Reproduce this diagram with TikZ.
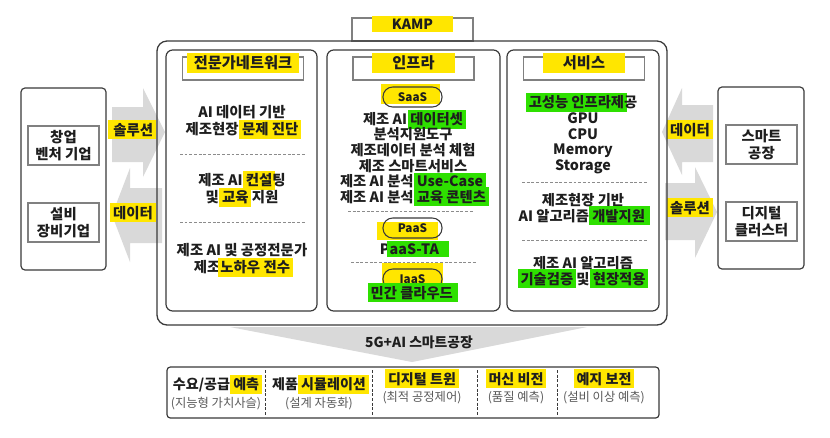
\documentclass[tikz,border=0pt]{standalone}
\usepackage{fontspec}
\setmainfont{Noto Sans CJK KR}
\usetikzlibrary{positioning}
\definecolor{ink}{HTML}{1E1E1E}
\definecolor{frame}{HTML}{3A3A3A}
\definecolor{titleline}{HTML}{808080}
\definecolor{dashline}{HTML}{8C8C8C}
\definecolor{arrowfill}{HTML}{D9D9D9}
\definecolor{hlyellow}{HTML}{FFE600}
\definecolor{hlgreen}{HTML}{2EE000}
\definecolor{subtext}{HTML}{595959}
\setlength{\fboxsep}{2.4pt}
\newcommand\hly[1]{\hspace*{-\fboxsep}\smash{\colorbox{hlyellow}{#1}}\hspace*{-\fboxsep}}
\newcommand\hlg[1]{\hspace*{-\fboxsep}\smash{\colorbox{hlgreen}{#1}}\hspace*{-\fboxsep}}
\newcommand\hlw[2]{\smash{\colorbox{hlyellow}{\makebox[#1]{#2}}}}
\tikzset{
  outer frame/.style={draw=frame,line width=1.1pt,rounded corners=3mm},
  panel box/.style={draw=frame,line width=1pt,rounded corners=2mm},
  side box/.style={draw=frame,line width=1pt,rounded corners=1.2mm},
  title box/.style={draw=titleline,line width=.9pt,minimum width=3.63cm,minimum height=.69cm,
    inner sep=0pt,font=\bfseries\fontsize{13}{15}\selectfont,text=ink},
  member box/.style={draw=titleline,line width=.9pt,minimum width=2.13cm,minimum height=1.17cm,
    inner sep=0pt,align=center,font=\bfseries\fontsize{12.3}{14.4}\selectfont,text=ink},
  body text/.style={align=center,text=ink,font=\bfseries\fontsize{12.3}{14.4}\selectfont},
  dense text/.style={align=center,text=ink,font=\bfseries\fontsize{12.2}{13.3}\selectfont},
  pill/.style={draw=frame,line width=.9pt,rounded corners=.29cm,minimum width=1.77cm,
    minimum height=.6cm,inner sep=0pt,font=\bfseries\fontsize{10}{11}\selectfont,text=ink},
  divider/.style={draw=dashline,line width=.7pt,dash pattern=on 2.4pt off 1.6pt},
  flow arrow/.style={fill=arrowfill,draw=none},
  flow label/.style={font=\bfseries\fontsize{12.3}{14}\selectfont,text=ink},
  case text/.style={align=center,text=ink,font=\bfseries\fontsize{12}{15}\selectfont}
}
\newcommand\sub[1]{{\mdseries\fontsize{10.5}{12}\selectfont\color{subtext}#1}}

\begin{document}
\begin{tikzpicture}[x=0.03cm,y=-0.03cm]
  \path[use as bounding box] (0,0) rectangle (830,437);
  \fill[white] (0,0) rectangle (830,437);

  % Block arrows between partners and platform.
  \fill[flow arrow] (112,107) -- (143,107) -- (143,88) -- (165,132) -- (143,177)
    -- (143,162) -- (112,162) -- cycle;
  \fill[flow arrow] (162,188) -- (130,188) -- (130,168) -- (112,215) -- (130,262)
    -- (130,243) -- (162,243) -- cycle;
  \fill[flow arrow] (713,105) -- (682,105) -- (682,88) -- (662,132) -- (682,175)
    -- (682,162) -- (713,162) -- cycle;
  \fill[flow arrow] (665,183) -- (695,183) -- (695,167) -- (717,212) -- (695,258)
    -- (695,240) -- (665,240) -- cycle;
  \node[flow label] (solL) at (132,135) {\hly{\,솔루션}};
  \node[flow label] (datL) at (133,218) {\hly{데이터}};
  \node[flow label] (datR) at (690,135) {\hly{데이터}};
  \node[flow label] (solR) at (690,213) {\hly{솔루션}};

  % Funnel down to the use cases.
  \fill[flow arrow] (230,327) -- (587,327) -- (412,362) -- cycle;
  \node[font=\bfseries\fontsize{11.8}{13}\selectfont,text=ink] (smart) at (419,342) {5G+AI 스마트공장};

  % KAMP platform.
  \node[title box,font=\bfseries\fontsize{12}{14}\selectfont] (kamp) at (412.5,29.5) {\hlw{2.25cm}{KAMP}};
  \draw[outer frame] (157,41) rectangle (667,325);
  \draw[panel box] (166,50) rectangle (317,311);
  \draw[panel box] (327,50) rectangle (500,311);
  \draw[panel box] (507,50) rectangle (659,311);

  % Expert network panel.
  \node[title box] (tExpert) at (243,68.5) {\hlw{3.2cm}{전문가네트워크}};
  \node[body text] (ex1) at (242,121) {AI 데이터 기반\\제조현장 \hly{문제 진단}};
  \draw[divider] (180,154) -- (306,154);
  \node[body text] (ex2) at (242,189) {제조 AI \hly{컨설}팅\\및 \hly{교육} 지원};
  \draw[divider] (180,222) -- (306,222);
  \node[body text] (ex3) at (242,259) {제조 AI 및 공정전문가\\제조\hly{노하우 전수}};

  % Infrastructure panel.
  \node[title box] (tInfra) at (413.5,68.5) {\hlw{2.3cm}{인프라}};
  \fill[hlyellow] (381,84) rectangle (440,104);
  \node[pill] (saas) at (412.5,97) {SaaS};
  \node[dense text] (in1) at (413,158) {제조 AI \hlg{데이터셋}\\분석지원도구\\제조데이터 분석 체험\\
    제조 스마트서비스\\제조 AI 분석 \hlg{Use-Case}\\제조 AI 분석 \hlg{교육 콘텐츠}};
  \draw[divider] (348,211) -- (474,211);
  \fill[hlyellow] (377,222) rectangle (438,240);
  \node[pill] (paas) at (412.5,228) {PaaS};
  \node[dense text] (in2) at (413,249) {P\hlg{aaS-TA\,\,\,}};
  \draw[divider] (351,262) -- (477,262);
  \fill[hlyellow] (382,263) rectangle (443,283);
  \node[pill] (iaas) at (412.5,279) {IaaS};
  \node[dense text] (in3) at (413,298) {\hlg{민간 클라우드\,}};

  % Service panel.
  \node[title box] (tService) at (584,68.5) {\hlw{2.3cm}{서비스}};
  \node[dense text] (sv1) at (583,135) {\hlg{고성능 인프라제}공\\GPU\\CPU\\Memory\\Storage};
  \draw[divider] (522,182) -- (648,182);
  \node[dense text] (sv2) at (583,208) {제조현장 기반\\AI 알고리즘 \hlg{개발지원\,}};
  \draw[divider] (522,240) -- (648,240);
  \node[dense text] (sv3) at (583,271) {제조 AI 알고리즘\\\hlg{기술검증} 및 \hlg{현장적용}};

  % Partners on the left.
  \draw[side box] (21,88) rectangle (106,270);
  \node[member box] (startup) at (63.5,145.5) {창업\\벤처 기업};
  \node[member box] (equip) at (63.5,222.5) {설비\\장비기업};

  % Partners on the right.
  \draw[side box] (718,87) rectangle (804,269);
  \node[member box] (factory) at (761.5,144.5) {스마트\\공장};
  \node[member box] (cluster) at (761.5,221.5) {디지털\\클러스터};

  % Use cases.
  \draw[frame,line width=1pt,rounded corners=1mm] (167,367) rectangle (659,418);
  \node[case text] (uc1) at (216,394) {수요/공급 \hly{예측}\\\sub{(지능형 가치사슬)}};
  \node[case text] (uc2) at (319,394) {제품 \hly{시뮬레이션}\\\sub{(설계 자동화)}};
  \node[case text] (uc3) at (422,394) {\hly{디지털 트윈}\\\sub{(최적 공정제어)}};
  \node[case text] (uc4) at (516,394) {\hly{머신 비전}\\\sub{(품질 예측)}};
  \node[case text] (uc5) at (604,394) {\hly{예지 보전}\\\sub{(설비 이상 예측)}};
  \foreach \x in {265,372,477,557}
    \draw[frame,line width=.6pt,dash pattern=on 2.4pt off 1.6pt] (\x,370) -- (\x,416);
\end{tikzpicture}
\end{document}
